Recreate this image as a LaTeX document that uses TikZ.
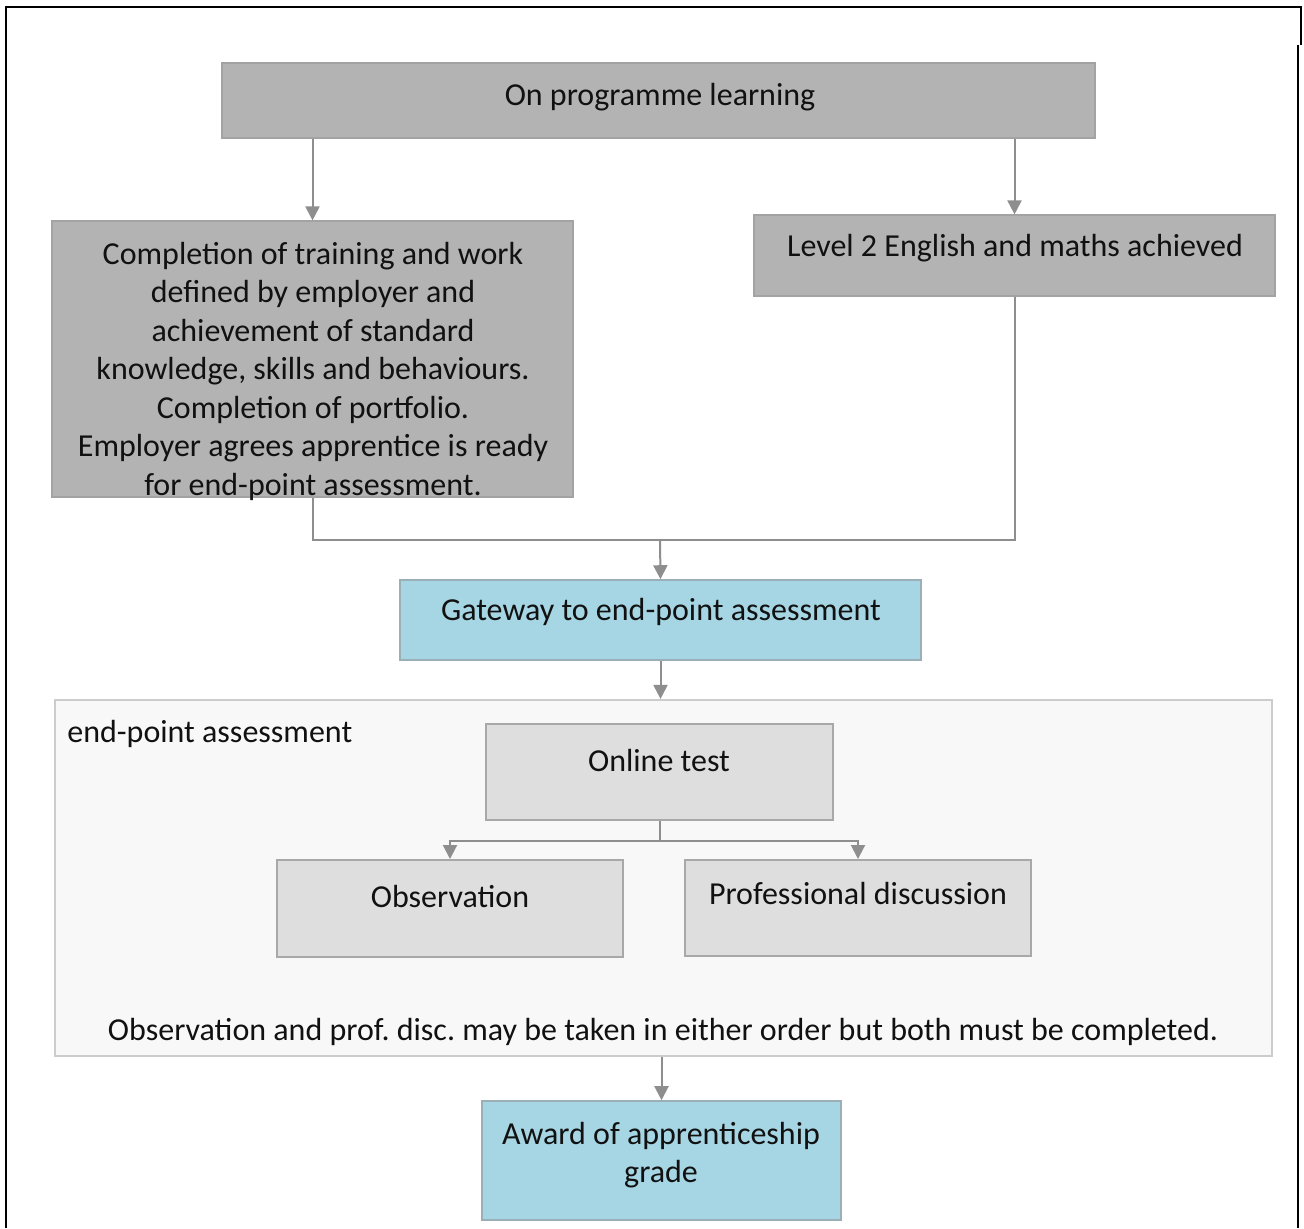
\documentclass[tikz,border=0pt]{standalone}
\usepackage{fontspec}
\setmainfont{Carlito}
\frenchspacing
\usetikzlibrary{arrows.meta,fit}
\definecolor{boxgray}{HTML}{B3B3B3}
\definecolor{boxgrayline}{HTML}{A3A3A3}
\definecolor{boxblue}{HTML}{A6D5E3}
\definecolor{boxblueline}{HTML}{9AAFB6}
\definecolor{lightbox}{HTML}{DEDEDE}
\definecolor{lightline}{HTML}{A8A8A8}
\definecolor{panel}{HTML}{F8F8F8}
\definecolor{panelline}{HTML}{CCCCCC}
\definecolor{conn}{HTML}{8E8E8E}
\definecolor{ink}{HTML}{111111}
\begin{document}
\begin{tikzpicture}[x=0.5pt,y=-0.5pt,
  darkbox/.style={draw=boxgrayline,fill=boxgray,line width=0.6pt,inner sep=0pt},
  bluebox/.style={draw=boxblueline,fill=boxblue,line width=0.8pt,inner sep=0pt},
  lightboxs/.style={draw=lightline,fill=lightbox,line width=1pt,inner sep=0pt},
  panelbox/.style={draw=panelline,fill=panel,line width=1.1pt,inner sep=0pt},
  txt/.style={text=ink,font=\fontsize{16pt}{19.25pt}\selectfont,align=center,inner sep=0pt},
  arr/.style={draw=conn,line width=1pt,-{Triangle[width=7pt,length=7pt]}},
  ln/.style={draw=conn,line width=1pt}]
\useasboundingbox (0,0) rectangle (1304,1228);
\fill[white] (0,0) rectangle (1304,1228);
% outer frame
\draw[black,line width=1.3pt] (6,1228) -- (6,7) -- (1301,7) -- (1301,45);
\draw[black,line width=0.7pt] (1298,45) -- (1298,1228);

% boxes
\node[darkbox,fit={(222,63) (1095,138)}] (top) {};
\node[darkbox,fit={(52,221) (573,497)}] (left) {};
\node[darkbox,fit={(754,215) (1275,296)}] (right) {};
\node[bluebox,fit={(400,580) (921,660)}] (gate) {};
\node[panelbox,fit={(55,700) (1272,1056)}] (epa) {};
\node[lightboxs,fit={(486,724) (833,820)}] (online) {};
\node[lightboxs,fit={(277,860) (623,957)}] (obs) {};
\node[lightboxs,fit={(685,860) (1031,956)}] (prof) {};
\node[bluebox,fit={(482,1101) (841,1220)}] (award) {};

% texts
\node[txt] (ttop) at (660,97) {On programme learning};
\node[txt] (tleft) at (313,371) {Completion of training and work\\defined by employer and\\achievement of standard\\knowledge, skills and behaviours.\\Completion of portfolio.\\Employer agrees apprentice is ready\\for end-point assessment.};
\node[txt] (tright) at (1015,248) {Level 2 English and maths achieved};
\node[txt] (tgate) at (661,612) {Gateway to end-point assessment};
\node[txt,anchor=west] (tepa) at (67,734) {end-point assessment};
\node[txt] (tonline) at (659,760) {Online test};
\node[txt] (tobs) at (450,896) {Observation};
\node[txt] (tprof) at (858,893) {Professional discussion};
\node[txt] (tnote) at (663,1032) {Observation and prof. disc. may be taken in either order but both must be completed.};
\node[txt] (taward) at (661,1155) {Award of apprenticeship\\grade};

% connectors
\draw[arr] (left.north |- top.south) -- (left.north);
\draw[arr] (right.north |- top.south) -- (right.north);
\coordinate (j) at (660,540);
\draw[ln] (left.south) |- (j);
\draw[ln] (right.south) |- (j);
\draw[arr] (j) -- (gate.north);
\draw[arr] (gate.south) -- (gate.south |- epa.north);
\coordinate (k) at ([yshift=-10pt]online.south);
\draw[ln] (online.south) -- (k);
\draw[arr] (k) -| (obs.north);
\draw[arr] (k) -| (prof.north);
\draw[arr] (epa.south -| award.north) -- (award.north);
\end{tikzpicture}
\end{document}
